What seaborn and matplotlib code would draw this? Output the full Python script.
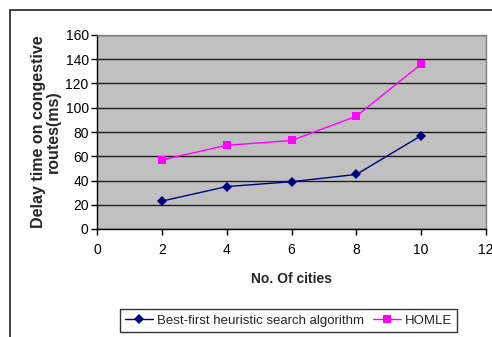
import matplotlib
matplotlib.use("Agg")
import matplotlib.pyplot as plt
import seaborn as sns
import pandas as pd
from matplotlib.patches import Rectangle

cities = [2, 4, 6, 8, 10]
best_first = [23, 35, 39, 45, 77]
homle = [57, 69, 73, 93, 136]
series_names = ["Best-first heuristic search algorithm", "HOMLE"]
y_ticks = [0, 20, 40, 60, 80, 100, 120, 140, 160]
x_ticks = [0, 2, 4, 6, 8, 10, 12]

df = pd.DataFrame({
    "cities": cities * 2,
    "delay": best_first + homle,
    "series": [series_names[0]] * len(cities) + [series_names[1]] * len(cities),
})

sns.set_theme(style="white")
plt.rcParams["font.family"] = ["Liberation Sans", "DejaVu Sans"]

fig = plt.figure(figsize=(4.92, 3.37), dpi=100)
fig.patch.set_facecolor("white")
ax = fig.add_axes([97 / 492, 1 - 229 / 337, (486 - 97) / 492, (229 - 35) / 337])
ax.set_facecolor("#C0C0C0")

palette = {series_names[0]: "#000080", series_names[1]: "#FF00FF"}
markers = {series_names[0]: "D", series_names[1]: "s"}
sns.lineplot(data=df, x="cities", y="delay", hue="series", style="series",
             palette=palette, markers=markers, dashes=False, markersize=5.5,
             linewidth=1, markeredgewidth=0, ax=ax, legend=True, zorder=3)

ax.set_xlim(0, 12)
ax.set_ylim(0, 160)
ax.set_xticks(x_ticks)
ax.set_yticks(y_ticks)
ax.tick_params(axis="both", labelsize=10, colors="black", length=4, width=1,
               direction="out", pad=6)
ax.tick_params(axis="y", pad=2)
ax.xaxis.set_ticks_position("bottom")
ax.yaxis.set_ticks_position("left")
ax.grid(axis="y", color="#202020", linewidth=1)
ax.grid(axis="x", visible=False)
ax.set_axisbelow(True)
for side in ["top", "right"]:
    ax.spines[side].set_color("#808080")
    ax.spines[side].set_linewidth(1)
for side in ["left", "bottom"]:
    ax.spines[side].set_color("black")
    ax.spines[side].set_linewidth(1)

ax.set_xlabel("No. Of cities", fontsize=10, fontweight="bold", labelpad=11)
ax.set_ylabel("Delay time on congestive\nroutes(ms)", fontsize=11.5,
              fontweight="bold", labelpad=3, linespacing=1.0)

handles, labels = ax.get_legend_handles_labels()
leg = ax.legend(handles, labels, loc="upper left", ncol=2,
                bbox_to_anchor=(120 / 492, 1 - 309 / 337),
                bbox_transform=fig.transFigure, fontsize=9.5, frameon=True,
                fancybox=False, edgecolor="black", borderpad=0.4,
                handlelength=2.1, columnspacing=0.7, handletextpad=0.3,
                borderaxespad=0)
leg.get_frame().set_linewidth(1)

# outer chart border
fig.patches.append(Rectangle((10 / 492, -0.1), 1.2, 1 - 10 / 337 + 0.1,
                             transform=fig.transFigure, fill=False,
                             edgecolor="#202020", linewidth=1.2))

fig.savefig("out.png", dpi=100)
